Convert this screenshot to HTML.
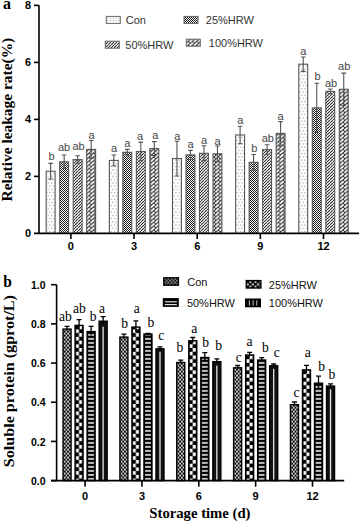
<!DOCTYPE html>
<html><head><meta charset="utf-8"><style>
html,body{margin:0;padding:0;background:#fff;width:359px;height:522px;overflow:hidden}
svg{display:block}
</style></head><body>
<svg width="359" height="522" viewBox="0 0 359 522">
<rect width="359" height="522" fill="#fff"/>

<defs>
 <pattern id="tCon" patternUnits="userSpaceOnUse" width="3.4" height="6.5">
  <rect width="3.4" height="6.5" fill="#fff"/>
  <rect x="0.3" y="0.4" width="1" height="1" fill="#777"/>
  <rect x="2" y="3.65" width="1" height="1" fill="#777"/>
 </pattern>
 <pattern id="t25" patternUnits="userSpaceOnUse" width="2" height="2">
  <rect width="2" height="2" fill="#fff"/>
  <rect x="0" y="0" width="1" height="1" fill="#1a1a1a"/>
  <rect x="1" y="1" width="1" height="1" fill="#1a1a1a"/>
 </pattern>
 <pattern id="t50" patternUnits="userSpaceOnUse" width="3" height="3">
  <rect width="3" height="3" fill="#fff"/>
  <polygon points="0,2.3 0,3 0.7,3 3,0.7 3,0 2.3,0" fill="#222"/>
 </pattern>
 <pattern id="t100" patternUnits="userSpaceOnUse" width="4.3" height="3.85">
  <rect width="4.3" height="3.85" fill="#333"/>
  <polygon points="0.00,2.62 0.00,3.47 0.43,3.85 1.38,3.85 4.30,1.23 4.30,0.39 3.87,0.00 2.92,0.00" fill="#fff"/>
 </pattern>
 <pattern id="b50" patternUnits="userSpaceOnUse" y="0.9" width="4" height="4">
  <rect width="4" height="4" fill="#000"/>
  <rect x="0" y="1.2" width="4" height="1.6" fill="#eee"/>
 </pattern>
</defs>
<defs><pattern id="bCon0" patternUnits="userSpaceOnUse" x="63.85" y="0.6" width="3.4" height="4"><rect width="3.4" height="4" fill="#000"/><rect x="0.1" y="0.1" width="1.55" height="1.8" fill="#fff"/><rect x="1.8" y="2.1" width="1.55" height="1.8" fill="#fff"/></pattern><pattern id="b250" patternUnits="userSpaceOnUse" x="74.38" y="478.6" width="20" height="7.46"><rect width="20" height="7.46" fill="#000"/><rect x="1.5" y="0" width="3.05" height="3.6" fill="#fff"/><rect x="4.65" y="3.73" width="3.05" height="3.6" fill="#fff"/></pattern><pattern id="bCon1" patternUnits="userSpaceOnUse" x="120.7" y="0.6" width="3.4" height="4"><rect width="3.4" height="4" fill="#000"/><rect x="0.1" y="0.1" width="1.55" height="1.8" fill="#fff"/><rect x="1.8" y="2.1" width="1.55" height="1.8" fill="#fff"/></pattern><pattern id="b251" patternUnits="userSpaceOnUse" x="131.23" y="478.6" width="20" height="7.46"><rect width="20" height="7.46" fill="#000"/><rect x="1.5" y="0" width="3.05" height="3.6" fill="#fff"/><rect x="4.65" y="3.73" width="3.05" height="3.6" fill="#fff"/></pattern><pattern id="bCon2" patternUnits="userSpaceOnUse" x="177.55" y="0.6" width="3.4" height="4"><rect width="3.4" height="4" fill="#000"/><rect x="0.1" y="0.1" width="1.55" height="1.8" fill="#fff"/><rect x="1.8" y="2.1" width="1.55" height="1.8" fill="#fff"/></pattern><pattern id="b252" patternUnits="userSpaceOnUse" x="188.08" y="478.6" width="20" height="7.46"><rect width="20" height="7.46" fill="#000"/><rect x="1.5" y="0" width="3.05" height="3.6" fill="#fff"/><rect x="4.65" y="3.73" width="3.05" height="3.6" fill="#fff"/></pattern><pattern id="bCon3" patternUnits="userSpaceOnUse" x="234.4" y="0.6" width="3.4" height="4"><rect width="3.4" height="4" fill="#000"/><rect x="0.1" y="0.1" width="1.55" height="1.8" fill="#fff"/><rect x="1.8" y="2.1" width="1.55" height="1.8" fill="#fff"/></pattern><pattern id="b253" patternUnits="userSpaceOnUse" x="244.93" y="478.6" width="20" height="7.46"><rect width="20" height="7.46" fill="#000"/><rect x="1.5" y="0" width="3.05" height="3.6" fill="#fff"/><rect x="4.65" y="3.73" width="3.05" height="3.6" fill="#fff"/></pattern><pattern id="bCon4" patternUnits="userSpaceOnUse" x="291.25" y="0.6" width="3.4" height="4"><rect width="3.4" height="4" fill="#000"/><rect x="0.1" y="0.1" width="1.55" height="1.8" fill="#fff"/><rect x="1.8" y="2.1" width="1.55" height="1.8" fill="#fff"/></pattern><pattern id="b254" patternUnits="userSpaceOnUse" x="301.78" y="478.6" width="20" height="7.46"><rect width="20" height="7.46" fill="#000"/><rect x="1.5" y="0" width="3.05" height="3.6" fill="#fff"/><rect x="4.65" y="3.73" width="3.05" height="3.6" fill="#fff"/></pattern><pattern id="lCon" patternUnits="userSpaceOnUse" x="164" y="278" width="3.4" height="3.6"><rect width="3.4" height="3.6" fill="#111"/><rect x="0.3" y="0.3" width="1.2" height="1.2" fill="#fff"/><rect x="2" y="2.1" width="1.2" height="1.2" fill="#fff"/></pattern><pattern id="l25" patternUnits="userSpaceOnUse" x="246.4" y="280.6" width="5.2" height="5" ><rect width="5.2" height="5" fill="#000"/><rect x="2.9" y="0.3" width="2" height="1.9" fill="#fff"/><rect x="0.3" y="2.8" width="2" height="1.9" fill="#fff"/></pattern><pattern id="tConL" patternUnits="userSpaceOnUse" x="107.3" y="17.6" width="2.8" height="2.6"><rect width="2.8" height="2.6" fill="#fff"/><rect x="0" y="0" width="1" height="1" fill="#999"/></pattern></defs>
<rect x="46.2" y="171.2" width="8.9" height="62.2" fill="url(#tCon)" stroke="#555" stroke-width="1.1"/>
<path d="M50.65 163.4V171.2M48.35 163.4H52.95M50.65 171.2V179M48.35 179H52.95" stroke="#555" stroke-width="1.1" fill="none"/>
<text transform="translate(51.45,159.5) scale(1,1)" text-anchor="middle" font-size="11" font-family="Liberation Sans, sans-serif" fill="#444">b</text>
<rect x="59.7" y="161.8" width="8.9" height="71.6" fill="url(#t25)" stroke="#555" stroke-width="1.1"/>
<path d="M64.15 155V161.8M61.85 155H66.45M64.15 161.8V168.6M61.85 168.6H66.45" stroke="#555" stroke-width="1.1" fill="none"/>
<text transform="translate(64,150.6) scale(1,1)" text-anchor="middle" font-size="11" font-family="Liberation Sans, sans-serif" fill="#444">ab</text>
<rect x="73.2" y="159.6" width="8.9" height="73.8" fill="url(#t50)" stroke="#555" stroke-width="1.1"/>
<path d="M77.65 155.8V159.6M75.35 155.8H79.95M77.65 159.6V163.4M75.35 163.4H79.95" stroke="#555" stroke-width="1.1" fill="none"/>
<text transform="translate(78.5,150.3) scale(1,1)" text-anchor="middle" font-size="11" font-family="Liberation Sans, sans-serif" fill="#444">ab</text>
<rect x="86.7" y="149.4" width="8.9" height="84" fill="url(#t100)" stroke="#555" stroke-width="1.1"/>
<path d="M91.15 140.5V149.4M88.85 140.5H93.45M91.15 149.4V158.3M88.85 158.3H93.45" stroke="#555" stroke-width="1.1" fill="none"/>
<text transform="translate(91.65,138.5) scale(1,1)" text-anchor="middle" font-size="11" font-family="Liberation Sans, sans-serif" fill="#444">a</text>
<rect x="109.35" y="160.4" width="8.9" height="73" fill="url(#tCon)" stroke="#555" stroke-width="1.1"/>
<path d="M113.8 155V160.4M111.5 155H116.1M113.8 160.4V165.8M111.5 165.8H116.1" stroke="#555" stroke-width="1.1" fill="none"/>
<text transform="translate(114.05,152.2) scale(1,1)" text-anchor="middle" font-size="11" font-family="Liberation Sans, sans-serif" fill="#444">a</text>
<rect x="122.85" y="152.3" width="8.9" height="81.1" fill="url(#t25)" stroke="#555" stroke-width="1.1"/>
<path d="M127.3 149.4V152.3M125 149.4H129.6M127.3 152.3V155.2M125 155.2H129.6" stroke="#555" stroke-width="1.1" fill="none"/>
<text transform="translate(127.2,146.6) scale(1,1)" text-anchor="middle" font-size="11" font-family="Liberation Sans, sans-serif" fill="#444">a</text>
<rect x="136.35" y="151.5" width="8.9" height="81.9" fill="url(#t50)" stroke="#555" stroke-width="1.1"/>
<path d="M140.8 142.1V151.5M138.5 142.1H143.1M140.8 151.5V160.9M138.5 160.9H143.1" stroke="#555" stroke-width="1.1" fill="none"/>
<text transform="translate(140.15,140.1) scale(1,1)" text-anchor="middle" font-size="11" font-family="Liberation Sans, sans-serif" fill="#444">a</text>
<rect x="149.85" y="148.6" width="8.9" height="84.8" fill="url(#t100)" stroke="#555" stroke-width="1.1"/>
<path d="M154.3 141.6V148.6M152 141.6H156.6M154.3 148.6V155.6M152 155.6H156.6" stroke="#555" stroke-width="1.1" fill="none"/>
<text transform="translate(155.35,139.3) scale(1,1)" text-anchor="middle" font-size="11" font-family="Liberation Sans, sans-serif" fill="#444">a</text>
<rect x="172.5" y="158.6" width="8.9" height="74.8" fill="url(#tCon)" stroke="#555" stroke-width="1.1"/>
<path d="M176.95 141.2V158.6M174.65 141.2H179.25M176.95 158.6V176M174.65 176H179.25" stroke="#555" stroke-width="1.1" fill="none"/>
<text transform="translate(177.3,139.9) scale(1,1)" text-anchor="middle" font-size="11" font-family="Liberation Sans, sans-serif" fill="#444">a</text>
<rect x="186" y="154.9" width="8.9" height="78.5" fill="url(#t25)" stroke="#555" stroke-width="1.1"/>
<path d="M190.45 150.4V154.9M188.15 150.4H192.75M190.45 154.9V159.4M188.15 159.4H192.75" stroke="#555" stroke-width="1.1" fill="none"/>
<text transform="translate(190.55,147.5) scale(1,1)" text-anchor="middle" font-size="11" font-family="Liberation Sans, sans-serif" fill="#444">a</text>
<rect x="199.5" y="153.3" width="8.9" height="80.1" fill="url(#t50)" stroke="#555" stroke-width="1.1"/>
<path d="M203.95 145.7V153.3M201.65 145.7H206.25M203.95 153.3V160.9M201.65 160.9H206.25" stroke="#555" stroke-width="1.1" fill="none"/>
<text transform="translate(203.95,144) scale(1,1)" text-anchor="middle" font-size="11" font-family="Liberation Sans, sans-serif" fill="#444">a</text>
<rect x="213" y="153.8" width="8.9" height="79.6" fill="url(#t100)" stroke="#555" stroke-width="1.1"/>
<path d="M217.45 146V153.8M215.15 146H219.75M217.45 153.8V161.6M215.15 161.6H219.75" stroke="#555" stroke-width="1.1" fill="none"/>
<text transform="translate(217.65,144.8) scale(1,1)" text-anchor="middle" font-size="11" font-family="Liberation Sans, sans-serif" fill="#444">a</text>
<rect x="235.65" y="135" width="8.9" height="98.4" fill="url(#tCon)" stroke="#555" stroke-width="1.1"/>
<path d="M240.1 126.2V135M237.8 126.2H242.4M240.1 135V143.8M237.8 143.8H242.4" stroke="#555" stroke-width="1.1" fill="none"/>
<text transform="translate(240.3,124.1) scale(1,1)" text-anchor="middle" font-size="11" font-family="Liberation Sans, sans-serif" fill="#444">a</text>
<rect x="249.15" y="162.3" width="8.9" height="71.1" fill="url(#t25)" stroke="#555" stroke-width="1.1"/>
<path d="M253.6 154.5V162.3M251.3 154.5H255.9M253.6 162.3V170.1M251.3 170.1H255.9" stroke="#555" stroke-width="1.1" fill="none"/>
<text transform="translate(254.25,151.9) scale(1,1)" text-anchor="middle" font-size="11" font-family="Liberation Sans, sans-serif" fill="#444">b</text>
<rect x="262.65" y="149.6" width="8.9" height="83.8" fill="url(#t50)" stroke="#555" stroke-width="1.1"/>
<path d="M267.1 144.7V149.6M264.8 144.7H269.4M267.1 149.6V154.5M264.8 154.5H269.4" stroke="#555" stroke-width="1.1" fill="none"/>
<text transform="translate(267.75,141.9) scale(1,1)" text-anchor="middle" font-size="11" font-family="Liberation Sans, sans-serif" fill="#444">ab</text>
<rect x="276.15" y="133.4" width="8.9" height="100" fill="url(#t100)" stroke="#555" stroke-width="1.1"/>
<path d="M280.6 121.6V133.4M278.3 121.6H282.9M280.6 133.4V145.2M278.3 145.2H282.9" stroke="#555" stroke-width="1.1" fill="none"/>
<text transform="translate(280.65,119.6) scale(1,1)" text-anchor="middle" font-size="11" font-family="Liberation Sans, sans-serif" fill="#444">a</text>
<rect x="298.8" y="64.2" width="8.9" height="169.2" fill="url(#tCon)" stroke="#555" stroke-width="1.1"/>
<path d="M303.25 57V64.2M300.95 57H305.55M303.25 64.2V71.4M300.95 71.4H305.55" stroke="#555" stroke-width="1.1" fill="none"/>
<text transform="translate(303.3,54.6) scale(1,1)" text-anchor="middle" font-size="11" font-family="Liberation Sans, sans-serif" fill="#444">a</text>
<rect x="312.3" y="107.9" width="8.9" height="125.5" fill="url(#t25)" stroke="#555" stroke-width="1.1"/>
<path d="M316.75 83.3V107.9M314.45 83.3H319.05M316.75 107.9V132.5M314.45 132.5H319.05" stroke="#555" stroke-width="1.1" fill="none"/>
<text transform="translate(317.45,80.3) scale(1,1)" text-anchor="middle" font-size="11" font-family="Liberation Sans, sans-serif" fill="#444">b</text>
<rect x="325.8" y="91.4" width="8.9" height="142" fill="url(#t50)" stroke="#555" stroke-width="1.1"/>
<path d="M330.25 89V91.4M327.95 89H332.55M330.25 91.4V93.8M327.95 93.8H332.55" stroke="#555" stroke-width="1.1" fill="none"/>
<text transform="translate(331,87.3) scale(1,1)" text-anchor="middle" font-size="11" font-family="Liberation Sans, sans-serif" fill="#444">ab</text>
<rect x="339.3" y="89.3" width="8.9" height="144.1" fill="url(#t100)" stroke="#555" stroke-width="1.1"/>
<path d="M343.75 73.1V89.3M341.45 73.1H346.05M343.75 89.3V105.5M341.45 105.5H346.05" stroke="#555" stroke-width="1.1" fill="none"/>
<text transform="translate(344.2,70) scale(1,1)" text-anchor="middle" font-size="11" font-family="Liberation Sans, sans-serif" fill="#444">ab</text>
<path d="M39.0 5.2V233.4" stroke="#000" stroke-width="1.6" fill="none"/>
<path d="M34 233.4H359" stroke="#000" stroke-width="1.6" fill="none"/>
<path d="M34 5.4H39.0" stroke="#000" stroke-width="1.6"/>
<path d="M34 62.4H39.0" stroke="#000" stroke-width="1.6"/>
<path d="M34 119.4H39.0" stroke="#000" stroke-width="1.6"/>
<path d="M34 176.4H39.0" stroke="#000" stroke-width="1.6"/>
<text transform="translate(31,9.2) scale(1,1.05)" text-anchor="end" font-size="11" font-family="Liberation Sans, sans-serif" font-weight="bold" fill="#000">8</text>
<text transform="translate(31,66.2) scale(1,1.05)" text-anchor="end" font-size="11" font-family="Liberation Sans, sans-serif" font-weight="bold" fill="#000">6</text>
<text transform="translate(31,123.2) scale(1,1.05)" text-anchor="end" font-size="11" font-family="Liberation Sans, sans-serif" font-weight="bold" fill="#000">4</text>
<text transform="translate(31,180.2) scale(1,1.05)" text-anchor="end" font-size="11" font-family="Liberation Sans, sans-serif" font-weight="bold" fill="#000">2</text>
<text transform="translate(31,237.2) scale(1,1.05)" text-anchor="end" font-size="11" font-family="Liberation Sans, sans-serif" font-weight="bold" fill="#000">0</text>
<path d="M70.9 233.4V239" stroke="#000" stroke-width="1.6"/>
<text transform="translate(70.9,250) scale(1,1.05)" text-anchor="middle" font-size="11" font-family="Liberation Sans, sans-serif" font-weight="bold" fill="#000">0</text>
<path d="M134.05 233.4V239" stroke="#000" stroke-width="1.6"/>
<text transform="translate(134.05,250) scale(1,1.05)" text-anchor="middle" font-size="11" font-family="Liberation Sans, sans-serif" font-weight="bold" fill="#000">3</text>
<path d="M197.2 233.4V239" stroke="#000" stroke-width="1.6"/>
<text transform="translate(197.2,250) scale(1,1.05)" text-anchor="middle" font-size="11" font-family="Liberation Sans, sans-serif" font-weight="bold" fill="#000">6</text>
<path d="M260.35 233.4V239" stroke="#000" stroke-width="1.6"/>
<text transform="translate(260.35,250) scale(1,1.05)" text-anchor="middle" font-size="11" font-family="Liberation Sans, sans-serif" font-weight="bold" fill="#000">9</text>
<path d="M323.5 233.4V239" stroke="#000" stroke-width="1.6"/>
<text transform="translate(323.5,250) scale(1,1.05)" text-anchor="middle" font-size="11" font-family="Liberation Sans, sans-serif" font-weight="bold" fill="#000">12</text>
<text transform="translate(11.5,119.6) rotate(-90) scale(1.05,1)" text-anchor="middle" font-size="14.7" font-family="Liberation Serif, serif" font-weight="bold" fill="#000" dy="0">Relative leakage rate(%)</text>
<text transform="translate(3,8.8) scale(1,1)" text-anchor="start" font-size="16" font-family="Liberation Serif, serif" font-weight="bold" fill="#000">a</text>
<rect x="106.3" y="16.4" width="14" height="7" fill="url(#tConL)" stroke="#666" stroke-width="1"/>
<text transform="translate(125.7,23.9) scale(1,1.05)" text-anchor="start" font-size="11" font-family="Liberation Sans, sans-serif" fill="#333">Con</text>
<rect x="184" y="16.4" width="14" height="7" fill="url(#t25)" stroke="#666" stroke-width="1"/>
<text transform="translate(205.8,23.9) scale(1,1.05)" text-anchor="start" font-size="11" font-family="Liberation Sans, sans-serif" fill="#333">25%HRW</text>
<rect x="105.3" y="41.2" width="14" height="7" fill="url(#t50)" stroke="#666" stroke-width="1"/>
<text transform="translate(125.3,48.5) scale(1,1.05)" text-anchor="start" font-size="11" font-family="Liberation Sans, sans-serif" fill="#333">50%HRW</text>
<rect x="186.3" y="39.2" width="14" height="7" fill="url(#t100)" stroke="#666" stroke-width="1"/>
<text transform="translate(208.8,46.6) scale(1,1.05)" text-anchor="start" font-size="11" font-family="Liberation Sans, sans-serif" fill="#333">100%HRW</text>
<rect x="63.05" y="329.1" width="8" height="151.5" fill="url(#bCon0)" stroke="#000" stroke-width="1.4"/>
<path d="M67.05 326.4V330.4M64.55 326.4H69.55" stroke="#000" stroke-width="1.3" fill="none"/>
<text transform="translate(65.35,320.6) scale(1.03,1.13)" text-anchor="middle" font-size="13.2" font-family="Liberation Serif, serif" fill="#000">ab</text>
<rect x="75.08" y="325.4" width="8" height="155.2" fill="url(#b250)" stroke="#000" stroke-width="1.4"/>
<path d="M79.08 319.7V329.7M76.58 319.7H81.58" stroke="#000" stroke-width="1.3" fill="none"/>
<text transform="translate(79.45,313.1) scale(1.03,1.13)" text-anchor="middle" font-size="13.2" font-family="Liberation Serif, serif" fill="#000">ab</text>
<rect x="87.11" y="331.6" width="8" height="149" fill="#000" stroke="#000" stroke-width="1.4"/>
<rect x="88.21" y="332.9" width="5.8" height="147.7" fill="url(#b50)"/>
<path d="M91.11 326.4V335.4M88.61 326.4H93.61" stroke="#000" stroke-width="1.3" fill="none"/>
<text transform="translate(93.05,321.4) scale(1.03,1.13)" text-anchor="middle" font-size="13.2" font-family="Liberation Serif, serif" fill="#000">b</text>
<rect x="99.14" y="321.2" width="8" height="159.4" fill="#111" stroke="#000" stroke-width="1.4"/>
<rect x="102.49" y="326.7" width="1.3" height="153.1" fill="#e4e4e4"/>
<path d="M103.14 316.7V324.3M100.64 316.7H105.64" stroke="#000" stroke-width="1.3" fill="none"/>
<text transform="translate(101.95,313.1) scale(1.03,1.13)" text-anchor="middle" font-size="13.2" font-family="Liberation Serif, serif" fill="#000">a</text>
<rect x="119.9" y="337.1" width="8" height="143.5" fill="url(#bCon1)" stroke="#000" stroke-width="1.4"/>
<path d="M123.9 334.2V338.6M121.4 334.2H126.4" stroke="#000" stroke-width="1.3" fill="none"/>
<text transform="translate(124.55,327.8) scale(1.03,1.13)" text-anchor="middle" font-size="13.2" font-family="Liberation Serif, serif" fill="#000">b</text>
<rect x="131.93" y="327.1" width="8" height="153.5" fill="url(#b251)" stroke="#000" stroke-width="1.4"/>
<path d="M135.93 320.9V331.9M133.43 320.9H138.43" stroke="#000" stroke-width="1.3" fill="none"/>
<text transform="translate(136.65,313.4) scale(1.03,1.13)" text-anchor="middle" font-size="13.2" font-family="Liberation Serif, serif" fill="#000">a</text>
<rect x="143.96" y="334.1" width="8" height="146.5" fill="#000" stroke="#000" stroke-width="1.4"/>
<rect x="145.06" y="335.4" width="5.8" height="145.2" fill="url(#b50)"/>
<path d="M147.96 333.4V333.4M145.46 333.4H150.46" stroke="#000" stroke-width="1.3" fill="none"/>
<text transform="translate(150.85,327.3) scale(1.03,1.13)" text-anchor="middle" font-size="13.2" font-family="Liberation Serif, serif" fill="#000">b</text>
<rect x="155.99" y="348.8" width="8" height="131.8" fill="#111" stroke="#000" stroke-width="1.4"/>
<rect x="159.34" y="351.8" width="1.3" height="128" fill="#e4e4e4"/>
<path d="M159.99 346.8V349.4M157.49 346.8H162.49" stroke="#000" stroke-width="1.3" fill="none"/>
<text transform="translate(161.3,339.8) scale(1.03,1.13)" text-anchor="middle" font-size="13.2" font-family="Liberation Serif, serif" fill="#000">c</text>
<rect x="176.75" y="362.5" width="8" height="118.1" fill="url(#bCon2)" stroke="#000" stroke-width="1.4"/>
<path d="M180.75 360.1V363.5M178.25 360.1H183.25" stroke="#000" stroke-width="1.3" fill="none"/>
<text transform="translate(179.85,352.3) scale(1.03,1.13)" text-anchor="middle" font-size="13.2" font-family="Liberation Serif, serif" fill="#000">b</text>
<rect x="188.78" y="340.8" width="8" height="139.8" fill="url(#b252)" stroke="#000" stroke-width="1.4"/>
<path d="M192.78 337.5V342.7M190.28 337.5H195.28" stroke="#000" stroke-width="1.3" fill="none"/>
<text transform="translate(194.3,333.4) scale(1.03,1.13)" text-anchor="middle" font-size="13.2" font-family="Liberation Serif, serif" fill="#000">a</text>
<rect x="200.81" y="357.5" width="8" height="123.1" fill="#000" stroke="#000" stroke-width="1.4"/>
<rect x="201.91" y="358.8" width="5.8" height="121.8" fill="url(#b50)"/>
<path d="M204.81 352.6V361M202.31 352.6H207.31" stroke="#000" stroke-width="1.3" fill="none"/>
<text transform="translate(205.7,347.3) scale(1.03,1.13)" text-anchor="middle" font-size="13.2" font-family="Liberation Serif, serif" fill="#000">b</text>
<rect x="212.84" y="361.7" width="8" height="118.9" fill="#111" stroke="#000" stroke-width="1.4"/>
<rect x="216.19" y="365.6" width="1.3" height="114.2" fill="#e4e4e4"/>
<path d="M216.84 358.8V363.2M214.34 358.8H219.34" stroke="#000" stroke-width="1.3" fill="none"/>
<text transform="translate(218.65,349.8) scale(1.03,1.13)" text-anchor="middle" font-size="13.2" font-family="Liberation Serif, serif" fill="#000">b</text>
<rect x="233.6" y="367.8" width="8" height="112.8" fill="url(#bCon3)" stroke="#000" stroke-width="1.4"/>
<path d="M237.6 365.5V368.7M235.1 365.5H240.1" stroke="#000" stroke-width="1.3" fill="none"/>
<text transform="translate(238.8,361.5) scale(1.03,1.13)" text-anchor="middle" font-size="13.2" font-family="Liberation Serif, serif" fill="#000">c</text>
<rect x="245.63" y="355" width="8" height="125.6" fill="url(#b253)" stroke="#000" stroke-width="1.4"/>
<path d="M249.63 352.3V356.3M247.13 352.3H252.13" stroke="#000" stroke-width="1.3" fill="none"/>
<text transform="translate(249.5,346.4) scale(1.03,1.13)" text-anchor="middle" font-size="13.2" font-family="Liberation Serif, serif" fill="#000">a</text>
<rect x="257.66" y="360" width="8" height="120.6" fill="#000" stroke="#000" stroke-width="1.4"/>
<rect x="258.76" y="361.3" width="5.8" height="119.3" fill="url(#b50)"/>
<path d="M261.66 357.6V361M259.16 357.6H264.16" stroke="#000" stroke-width="1.3" fill="none"/>
<text transform="translate(265.45,352.3) scale(1.03,1.13)" text-anchor="middle" font-size="13.2" font-family="Liberation Serif, serif" fill="#000">b</text>
<rect x="269.69" y="365.8" width="8" height="114.8" fill="#111" stroke="#000" stroke-width="1.4"/>
<rect x="273.04" y="368.8" width="1.3" height="111" fill="#e4e4e4"/>
<path d="M273.69 364V366.2M271.19 364H276.19" stroke="#000" stroke-width="1.3" fill="none"/>
<text transform="translate(276.65,356.8) scale(1.03,1.13)" text-anchor="middle" font-size="13.2" font-family="Liberation Serif, serif" fill="#000">c</text>
<rect x="290.45" y="404.7" width="8" height="75.9" fill="url(#bCon4)" stroke="#000" stroke-width="1.4"/>
<path d="M294.45 402V406M291.95 402H296.95" stroke="#000" stroke-width="1.3" fill="none"/>
<text transform="translate(296.55,397.2) scale(1.03,1.13)" text-anchor="middle" font-size="13.2" font-family="Liberation Serif, serif" fill="#000">c</text>
<rect x="302.48" y="369.9" width="8" height="110.7" fill="url(#b254)" stroke="#000" stroke-width="1.4"/>
<path d="M306.48 365.3V373.1M303.98 365.3H308.98" stroke="#000" stroke-width="1.3" fill="none"/>
<text transform="translate(307.8,356.9) scale(1.03,1.13)" text-anchor="middle" font-size="13.2" font-family="Liberation Serif, serif" fill="#000">a</text>
<rect x="314.51" y="383.2" width="8" height="97.4" fill="#000" stroke="#000" stroke-width="1.4"/>
<rect x="315.61" y="384.5" width="5.8" height="96.1" fill="url(#b50)"/>
<path d="M318.51 376.1V388.9M316.01 376.1H321.01" stroke="#000" stroke-width="1.3" fill="none"/>
<text transform="translate(321.6,370.9) scale(1.03,1.13)" text-anchor="middle" font-size="13.2" font-family="Liberation Serif, serif" fill="#000">b</text>
<rect x="326.54" y="386.1" width="8" height="94.5" fill="#111" stroke="#000" stroke-width="1.4"/>
<rect x="329.89" y="389.3" width="1.3" height="90.5" fill="#e4e4e4"/>
<path d="M330.54 383.9V386.9M328.04 383.9H333.04" stroke="#000" stroke-width="1.3" fill="none"/>
<text transform="translate(331.8,378.7) scale(1.03,1.13)" text-anchor="middle" font-size="13.2" font-family="Liberation Serif, serif" fill="#000">b</text>
<path d="M56.6 284.7V480.6" stroke="#000" stroke-width="1.6" fill="none"/>
<path d="M51 480.6H344.2" stroke="#000" stroke-width="1.6" fill="none"/>
<path d="M51 284.7H56.6" stroke="#000" stroke-width="1.6"/>
<text transform="translate(45.5,288.8) scale(1,1.05)" text-anchor="end" font-size="10.5" font-family="Liberation Sans, sans-serif" font-weight="bold" fill="#000">1.0</text>
<path d="M51 323.88H56.6" stroke="#000" stroke-width="1.6"/>
<text transform="translate(45.5,327.98) scale(1,1.05)" text-anchor="end" font-size="10.5" font-family="Liberation Sans, sans-serif" font-weight="bold" fill="#000">0.8</text>
<path d="M51 363.06H56.6" stroke="#000" stroke-width="1.6"/>
<text transform="translate(45.5,367.16) scale(1,1.05)" text-anchor="end" font-size="10.5" font-family="Liberation Sans, sans-serif" font-weight="bold" fill="#000">0.6</text>
<path d="M51 402.24H56.6" stroke="#000" stroke-width="1.6"/>
<text transform="translate(45.5,406.34) scale(1,1.05)" text-anchor="end" font-size="10.5" font-family="Liberation Sans, sans-serif" font-weight="bold" fill="#000">0.4</text>
<path d="M51 441.42H56.6" stroke="#000" stroke-width="1.6"/>
<text transform="translate(45.5,445.52) scale(1,1.05)" text-anchor="end" font-size="10.5" font-family="Liberation Sans, sans-serif" font-weight="bold" fill="#000">0.2</text>
<path d="M51 480.6H56.6" stroke="#000" stroke-width="1.6"/>
<text transform="translate(45.5,484.7) scale(1,1.05)" text-anchor="end" font-size="10.5" font-family="Liberation Sans, sans-serif" font-weight="bold" fill="#000">0.0</text>
<path d="M85.09 480.6V486.7" stroke="#000" stroke-width="1.6"/>
<text transform="translate(85.09,499.8) scale(1,1.05)" text-anchor="middle" font-size="11" font-family="Liberation Sans, sans-serif" font-weight="bold" fill="#000">0</text>
<path d="M141.94 480.6V486.7" stroke="#000" stroke-width="1.6"/>
<text transform="translate(141.94,499.8) scale(1,1.05)" text-anchor="middle" font-size="11" font-family="Liberation Sans, sans-serif" font-weight="bold" fill="#000">3</text>
<path d="M198.79 480.6V486.7" stroke="#000" stroke-width="1.6"/>
<text transform="translate(198.79,499.8) scale(1,1.05)" text-anchor="middle" font-size="11" font-family="Liberation Sans, sans-serif" font-weight="bold" fill="#000">6</text>
<path d="M255.64 480.6V486.7" stroke="#000" stroke-width="1.6"/>
<text transform="translate(255.64,499.8) scale(1,1.05)" text-anchor="middle" font-size="11" font-family="Liberation Sans, sans-serif" font-weight="bold" fill="#000">9</text>
<path d="M312.5 480.6V486.7" stroke="#000" stroke-width="1.6"/>
<text transform="translate(312.5,499.8) scale(1,1.05)" text-anchor="middle" font-size="11" font-family="Liberation Sans, sans-serif" font-weight="bold" fill="#000">12</text>
<text transform="translate(13.7,381.15) rotate(-90) scale(1.062,1)" text-anchor="middle" font-size="15.2" font-family="Liberation Serif, serif" font-weight="bold" fill="#000">Soluble protein (gprot/L)</text>
<text transform="translate(199.9,517.9) scale(1,1.05)" text-anchor="middle" font-size="14.7" font-family="Liberation Serif, serif" font-weight="bold" fill="#000">Storage time (d)</text>
<text transform="translate(3.2,286.6) scale(1,1.02)" text-anchor="start" font-size="15.5" font-family="Liberation Serif, serif" font-weight="bold" fill="#000">b</text>
<rect x="163.8" y="277.8" width="14.6" height="7.4" fill="url(#lCon)" stroke="#000" stroke-width="1.4"/>
<text transform="translate(187.3,285.6) scale(1,1.05)" text-anchor="start" font-size="11" font-family="Liberation Sans, sans-serif" fill="#111">Con</text>
<rect x="246.3" y="280.6" width="14.6" height="7.4" fill="url(#l25)" stroke="#000" stroke-width="1.4"/>
<text transform="translate(268.8,288.6) scale(1,1.05)" text-anchor="start" font-size="11" font-family="Liberation Sans, sans-serif" fill="#111">25%HRW</text>
<rect x="163.5" y="298.8" width="14.6" height="7.4" fill="#000" stroke="#000" stroke-width="1.4"/>
<rect x="164.8" y="301.2" width="12" height="1.2" fill="#ddd"/>
<rect x="164.8" y="304" width="12" height="1.2" fill="#ddd"/>
<text transform="translate(186.9,307.3) scale(1,1.05)" text-anchor="start" font-size="11" font-family="Liberation Sans, sans-serif" fill="#111">50%HRW</text>
<rect x="245.7" y="299.2" width="14.6" height="7.4" fill="#000" stroke="#000" stroke-width="1.4"/>
<rect x="248.9" y="300.4" width="1" height="5.2" fill="#ccc"/>
<rect x="252.6" y="300.4" width="1" height="5.2" fill="#ccc"/>
<rect x="256.3" y="300.4" width="1" height="5.2" fill="#ccc"/>
<text transform="translate(268.8,306.8) scale(1,1.05)" text-anchor="start" font-size="11" font-family="Liberation Sans, sans-serif" fill="#111">100%HRW</text>
</svg>
</body></html>
